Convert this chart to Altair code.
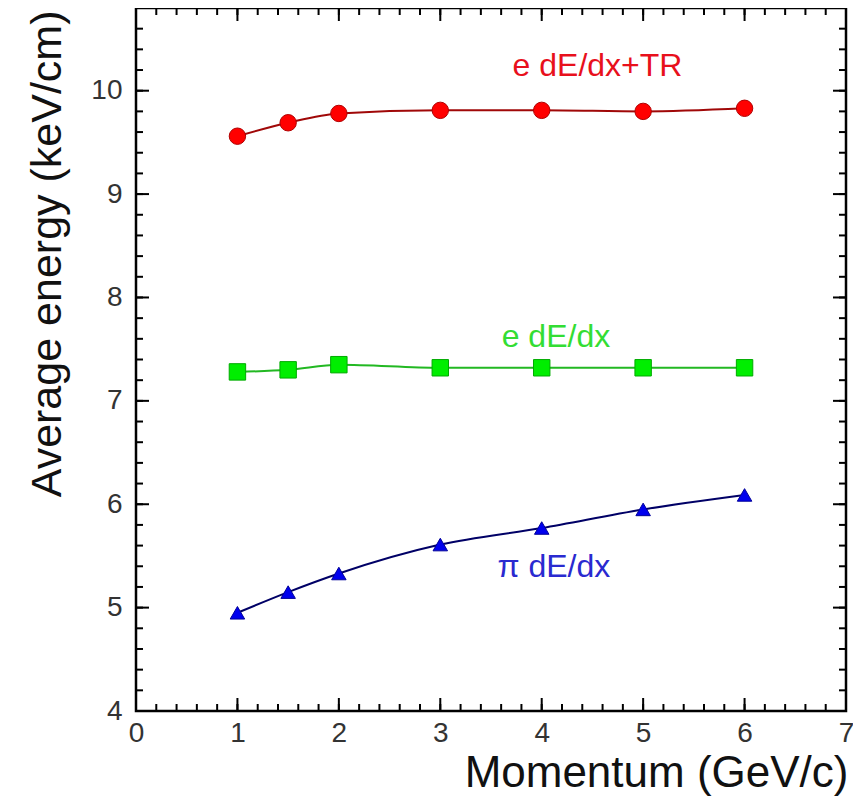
import altair as alt
import pandas as pd

# ---- data ----
momentum = [1, 1.5, 2, 3, 4, 5, 6]
e_dedx_tr = [9.56, 9.69, 9.78, 9.81, 9.81, 9.80, 9.83]
e_dedx = [7.28, 7.30, 7.35, 7.32, 7.32, 7.32, 7.32]
pi_dedx = [4.95, 5.15, 5.33, 5.61, 5.77, 5.95, 6.09]

x_major = [0, 1, 2, 3, 4, 5, 6, 7]
y_major = [4, 5, 6, 7, 8, 9, 10]
x_minor = [round(0.2 * i, 1) for i in range(36)]
y_minor = [round(4 + 0.2 * i, 1) for i in range(35)]

label_text = ["e dE/dx+TR", "e dE/dx", "π dE/dx"]
label_x = [4.55, 4.14, 4.12]
label_y = [10.14, 7.52, 5.30]
label_color = ["#e8101c", "#33dd33", "#2a2ad0"]

W, H = 710, 703
FONT = "Liberation Sans"

xs = alt.Scale(domain=[0, 7], nice=False, zero=False)
ys = alt.Scale(domain=[4, 10.8], nice=False, zero=False)

x_axis = alt.Axis(
    values=x_major, title="Momentum (GeV/c)", grid=False, domain=False,
    ticks=False, tickSize=0, labelFontSize=28, labelPadding=8,
    labelColor="#333", labelFlush=False, labelOverlap=False, labelFont=FONT,
    titleFont=FONT, titleFontSize=44, titleFontWeight="normal", titleColor="#111",
    titleAlign="right", titleAnchor="end", titleX=W + 2, titleY=75,
    titleBaseline="alphabetic",
)
y_axis = alt.Axis(
    values=y_major, title="Average energy (keV/cm)", grid=False, domain=False,
    ticks=False, tickSize=0, labelFontSize=28, labelPadding=14,
    labelColor="#333", labelFlush=False, labelOverlap=False, labelFont=FONT,
    titleFont=FONT, titleFontSize=43, titleFontWeight="normal", titleColor="#111",
    titleAngle=270, titleAlign="right", titleX=-76, titleY=2,
    titleBaseline="alphabetic",
)


def X(field):
    return alt.X(field, scale=xs, axis=x_axis)


def Y(field):
    return alt.Y(field, scale=ys, axis=y_axis)


def series_layers(values, line_color, shape, fill, stroke, size):
    df = pd.DataFrame({"p": momentum, "E": values})
    line = alt.Chart(df).mark_line(color=line_color, strokeWidth=2,
                                   interpolate="monotone").encode(x=X("p:Q"), y=Y("E:Q"))
    pts = alt.Chart(df).mark_point(shape=shape, filled=True, fill=fill,
                                   stroke=stroke, strokeWidth=1, opacity=1,
                                   size=size).encode(x=X("p:Q"), y=Y("E:Q"))
    return [line, pts]


layers = []
layers += series_layers(e_dedx_tr, "#a00808", "circle", "#ff0000", "#b00000", 270)
layers += series_layers(e_dedx, "#22b822", "square", "#00ee00", "#00aa00", 270)
layers += series_layers(pi_dedx, "#000066", "triangle-up", "#0000ee", "#000099", 210)

# labels
lab_df = pd.DataFrame({"t": label_text, "x": label_x, "y": label_y, "c": label_color})
labels = alt.Chart(lab_df).mark_text(font=FONT, fontSize=32, align="center",
                                     baseline="alphabetic").encode(
    x=X("x:Q"), y=Y("y:Q"),
    text="t:N", color=alt.Color("c:N", scale=None))
layers.append(labels)


# inward ticks on all four sides
def xticks(vals, length):
    df = pd.DataFrame({"v": vals})
    bottom = alt.Chart(df).mark_rule(color="black", strokeWidth=2).encode(
        x=X("v:Q"), y=alt.value(H), y2=alt.value(H - length))
    top = alt.Chart(df).mark_rule(color="black", strokeWidth=2).encode(
        x=X("v:Q"), y=alt.value(0), y2=alt.value(length))
    return [bottom, top]


def yticks(vals, length):
    df = pd.DataFrame({"v": vals})
    left = alt.Chart(df).mark_rule(color="black", strokeWidth=2).encode(
        y=Y("v:Q"), x=alt.value(0), x2=alt.value(length))
    right = alt.Chart(df).mark_rule(color="black", strokeWidth=2).encode(
        y=Y("v:Q"), x=alt.value(W), x2=alt.value(W - length))
    return [left, right]


layers += xticks(x_minor, 7) + xticks(x_major, 13)
layers += yticks(y_minor, 7) + yticks(y_major, 13)

chart = alt.layer(*layers).properties(
    width=W, height=H,
    autosize=alt.AutoSizeParams(type="none"),
    padding={"left": 128, "top": 0, "right": 7, "bottom": 88},
).configure(
    font=FONT, background="white"
).configure_view(stroke="black", strokeWidth=2.5)

chart.save("out.html", embed_options={"renderer": "svg", "actions": False})
